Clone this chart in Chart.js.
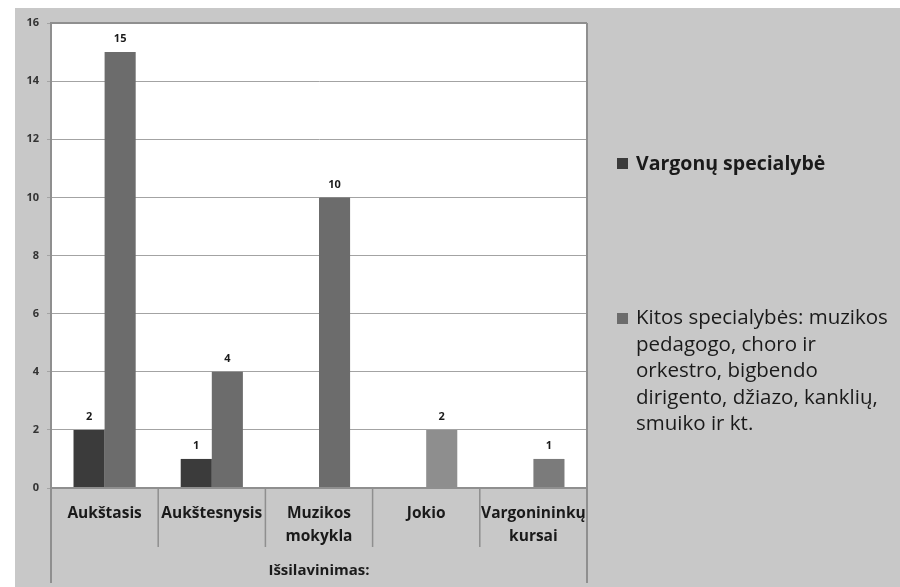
<!DOCTYPE html>
<html><head><meta charset="utf-8">
<script src="https://cdn.jsdelivr.net/npm/chart.js@4.4.1/dist/chart.umd.min.js"></script>
<style>
html,body{margin:0;padding:0;background:#fff;}
#wrap{position:relative;width:900px;height:587px;}
canvas{position:absolute;left:0;top:0;}
.leg{position:absolute;font-family:"Open Sans","Noto Sans",sans-serif;color:#1a1a1a;white-space:nowrap;}
.sq{position:absolute;width:11px;height:11px;}
</style></head>
<body>
<div id="wrap">
<canvas id="c" width="900" height="587"></canvas>
<div class="sq" style="left:617px;top:158px;background:#3b3b3b"></div>
<div class="leg" style="left:636px;top:149px;font-size:19.5px;font-weight:bold;line-height:27px;">Vargonų specialybė</div>
<div class="sq" style="left:617px;top:313px;background:#6c6c6c"></div>
<div class="leg" style="left:636px;top:303px;font-size:20.5px;line-height:26.5px;">Kitos specialybės: muzikos<br>pedagogo, choro ir<br>orkestro, bigbendo<br>dirigento, džiazo, kanklių,<br>smuiko ir kt.</div>
</div>
<script>
const categories = ["Aukštasis", "Aukštesnysis", ["Muzikos", "mokykla"], "Jokio", ["Vargonininkų", "kursai"]];
const seriesNames = ["Vargonų specialybė", "Kitos specialybės: muzikos pedagogo, choro ir orkestro, bigbendo dirigento, džiazo, kanklių, smuiko ir kt."];
const vargonu = [2, 1, null, null, null];
const kitos = [15, 4, 10, 2, 1];
const axisTitle = "Išsilavinimas:";
const yMin = 0, yMax = 16, yStep = 2;
const FONT = '"Open Sans", "Noto Sans", sans-serif';

const framePlugin = {
  id: 'frame',
  beforeDraw(chart) {
    const ctx = chart.ctx, a = chart.chartArea;
    ctx.save();
    ctx.fillStyle = '#ffffff';
    ctx.fillRect(0, 0, chart.width, chart.height);
    ctx.fillStyle = '#c8c8c8';
    ctx.fillRect(15, 8, chart.width - 15, chart.height - 8);
    ctx.fillStyle = '#ffffff';
    ctx.fillRect(a.left, a.top, a.right - a.left, a.bottom - a.top);
    ctx.restore();
  },
  afterDraw(chart) {
    const ctx = chart.ctx, a = chart.chartArea, x = chart.scales.x;
    ctx.save();
    ctx.strokeStyle = '#8f8f8f';
    ctx.lineWidth = 2;
    ctx.beginPath();
    ctx.moveTo(a.left, a.top); ctx.lineTo(a.left, 583);
    ctx.moveTo(a.right, a.top); ctx.lineTo(a.right, 583);
    ctx.moveTo(a.left, a.top); ctx.lineTo(a.right, a.top);
    ctx.moveTo(a.left, a.bottom); ctx.lineTo(a.right, a.bottom);
    ctx.stroke();
    ctx.lineWidth = 1.5;
    ctx.beginPath();
    for (let i = 1; i < categories.length; i++) {
      const px = (x.getPixelForValue(i - 1) + x.getPixelForValue(i)) / 2;
      ctx.moveTo(px, a.bottom); ctx.lineTo(px, 547);
    }
    ctx.stroke();
    ctx.fillStyle = '#1a1a1a';
    ctx.font = 'bold 15px ' + FONT;
    ctx.textAlign = 'center';
    ctx.textBaseline = 'middle';
    ctx.fillText(axisTitle, (a.left + a.right) / 2, 571);
    ctx.restore();
  },
  afterDatasetsDraw(chart) {
    const ctx = chart.ctx;
    ctx.save();
    ctx.fillStyle = '#1a1a1a';
    ctx.font = 'bold 11px ' + FONT;
    ctx.textAlign = 'center';
    ctx.textBaseline = 'middle';
    chart.data.datasets.forEach((ds, di) => {
      const meta = chart.getDatasetMeta(di);
      meta.data.forEach((bar, i) => {
        const v = ds.data[i];
        if (v === null || v === undefined) return;
        ctx.fillText(String(v), bar.x, bar.y - 13);
      });
    });
    ctx.restore();
  }
};

new Chart(document.getElementById('c'), {
  type: 'bar',
  data: {
    labels: categories,
    datasets: [
      { label: seriesNames[0], data: vargonu, backgroundColor: '#3b3b3b' },
      { label: seriesNames[1], data: kitos, backgroundColor: ['#6c6c6c', '#6c6c6c', '#6c6c6c', '#8e8e8e', '#7b7b7b'] }
    ]
  },
  options: {
    responsive: false,
    animation: false,
    devicePixelRatio: 1,
    layout: { padding: { left: 0, right: 313, top: 23, bottom: 4 } },
    datasets: { bar: { categoryPercentage: 0.58, barPercentage: 1.0 } },
    plugins: { legend: { display: false }, tooltip: { enabled: false } },
    scales: {
      x: {
        grid: { display: false, drawTicks: false },
        border: { display: false },
        ticks: { color: '#1a1a1a', padding: 14, font: { family: FONT, size: 15.5, weight: 'bold', lineHeight: 1.484 }, maxRotation: 0, autoSkip: false },
        afterFit(s) { s.height = 95; }
      },
      y: {
        min: yMin, max: yMax,
        ticks: { stepSize: yStep, color: '#333', padding: 8, font: { family: FONT, size: 11, weight: 'bold' } },
        grid: { color: '#a3a3a3', lineWidth: 1, tickLength: 4 },
        border: { display: true, color: '#8f8f8f', width: 2 },
        afterFit(s) { s.width = 51; }
      }
    }
  },
  plugins: [framePlugin]
});
</script>
</body></html>
